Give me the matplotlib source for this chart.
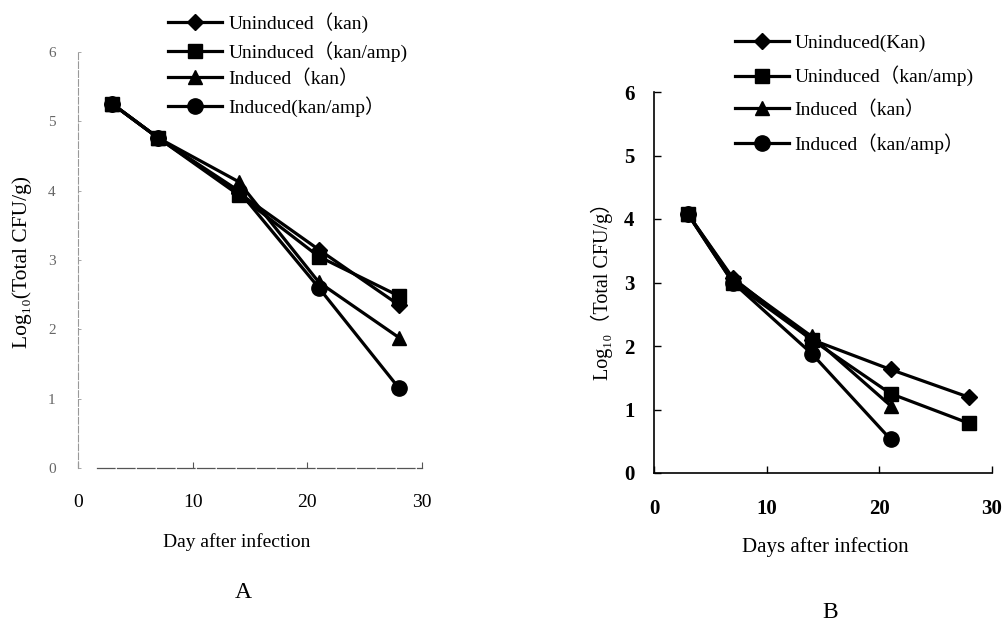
import matplotlib
matplotlib.use("Agg")
import matplotlib.pyplot as plt

W, H = 1003, 623
FAM = ['Liberation Serif', 'DejaVu Serif', 'Noto Sans CJK SC']
plt.rcParams['font.family'] = FAM

# ---------------- data ----------------
days_a = [3, 7, 14, 21, 28]
a_unind_kan = [5.25, 4.76, 3.97, 3.15, 2.35]
a_unind_kanamp = [5.25, 4.76, 3.94, 3.05, 2.48]
a_ind_kan = [5.25, 4.76, 4.13, 2.68, 1.88]
a_ind_kanamp = [5.25, 4.76, 4.0, 2.6, 1.15]

days_b = [3, 7, 14, 21, 28]
days_b_short = [3, 7, 14, 21]
b_unind_kan = [4.08, 3.07, 2.1, 1.63, 1.19]
b_unind_kanamp = [4.08, 3.0, 2.1, 1.25, 0.78]
b_ind_kan = [4.08, 3.05, 2.15, 1.06]
b_ind_kanamp = [4.08, 3.0, 1.88, 0.53]

labels_a = ["Uninduced（kan)", "Uninduced（kan/amp)", "Induced（kan）", "Induced(kan/amp）"]
labels_b = ["Uninduced(Kan)", "Uninduced（kan/amp)", "Induced（kan）", "Induced（kan/amp）"]
xticks = [0, 10, 20, 30]
yticks = [0, 1, 2, 3, 4, 5, 6]

markers = ['D', 's', '^', 'o']
msizes = [8.5, 10.5, 10, 11]

fig = plt.figure(figsize=(W / 100, H / 100), dpi=100)

def fx(px):
    return px / W

def fy(py):
    return 1 - py / H

# ---------------- panel A ----------------
axA = fig.add_axes([fx(78), fy(468), fx(422) - fx(78), fy(52) - fy(468)])
series_a = [a_unind_kan, a_unind_kanamp, a_ind_kan, a_ind_kanamp]
handles_a = []
for vals, m, ms, lab in zip(series_a, markers, msizes, labels_a):
    h, = axA.plot(days_a, vals, color='black', lw=2.3, marker=m, ms=ms,
                  markerfacecolor='black', markeredgecolor='black', label=lab)
    handles_a.append(h)
axA.set_xlim(0, 30)
axA.set_ylim(0, 6)
axA.set_xticks(xticks)
axA.set_yticks(yticks)
axA.spines['top'].set_visible(False)
axA.spines['right'].set_visible(False)
axA.spines['left'].set_color('#999999')
axA.spines['left'].set_linestyle((0, (6, 2)))
axA.spines['left'].set_linewidth(0.8)
axA.spines['bottom'].set_color('#555555')
axA.spines['bottom'].set_linestyle((0, (14, 2)))
axA.spines['bottom'].set_linewidth(0.9)
axA.spines['bottom'].set_bounds(1.7, 30)
axA.tick_params(axis='x', direction='in', length=4, width=0.8, color='#555555',
                pad=19, labelsize=14)
axA.tick_params(axis='y', direction='in', length=2, width=0.6, color='#999999',
                pad=16, labelsize=11, labelcolor='#666666')
axA.patch.set_visible(False)

fig.text(fx(22), fy(262), "Log₁₀(Total CFU/g)", rotation=90, ha='center', va='center',
         fontsize=15.5)
fig.text(fx(237), fy(542), "Day after infection", ha='center', va='center', fontsize=14)
fig.text(fx(243), fy(592), "A", ha='center', va='center', fontsize=17)

fig.legend(handles=handles_a, labels=labels_a, loc='upper left',
           bbox_to_anchor=(fx(168), fy(12)), frameon=False, fontsize=14,
           handlelength=2.8, handletextpad=0.3, labelspacing=0.42,
           borderpad=0, borderaxespad=0)

# ---------------- panel B ----------------
axB = fig.add_axes([fx(654), fy(473), fx(992) - fx(654), fy(92) - fy(473)])
series_b = [(days_b, b_unind_kan), (days_b, b_unind_kanamp),
            (days_b_short, b_ind_kan), (days_b_short, b_ind_kanamp)]
handles_b = []
for (xd, vals), m, ms, lab in zip(series_b, markers, msizes, labels_b):
    h, = axB.plot(xd, vals, color='black', lw=2.3, marker=m, ms=ms,
                  markerfacecolor='black', markeredgecolor='black', label=lab)
    handles_b.append(h)
axB.set_xlim(0, 30)
axB.set_ylim(0, 6)
axB.set_xticks(xticks)
axB.set_yticks(yticks)
axB.spines['top'].set_visible(False)
axB.spines['right'].set_visible(False)
axB.spines['left'].set_linewidth(1.2)
axB.spines['bottom'].set_linewidth(1.2)
axB.tick_params(axis='both', direction='in', length=5, width=1.0, labelsize=15)
axB.tick_params(axis='x', pad=19)
axB.tick_params(axis='y', pad=14)
for t in axB.get_xticklabels() + axB.get_yticklabels():
    t.set_fontweight('bold')
axB.patch.set_visible(False)

fig.text(fx(602), fy(286), "Log₁₀（Total CFU/g）", rotation=90, ha='center', va='center',
         fontsize=14.5)
fig.text(fx(825), fy(547), "Days after infection", ha='center', va='center', fontsize=15)
fig.text(fx(830), fy(612), "B", ha='center', va='center', fontsize=17)

fig.legend(handles=handles_b, labels=labels_b, loc='upper left',
           bbox_to_anchor=(fx(735), fy(34)), frameon=False, fontsize=14,
           handlelength=2.8, handletextpad=0.25, labelspacing=0.72,
           borderpad=0, borderaxespad=0)

fig.savefig("out.png", dpi=100)
